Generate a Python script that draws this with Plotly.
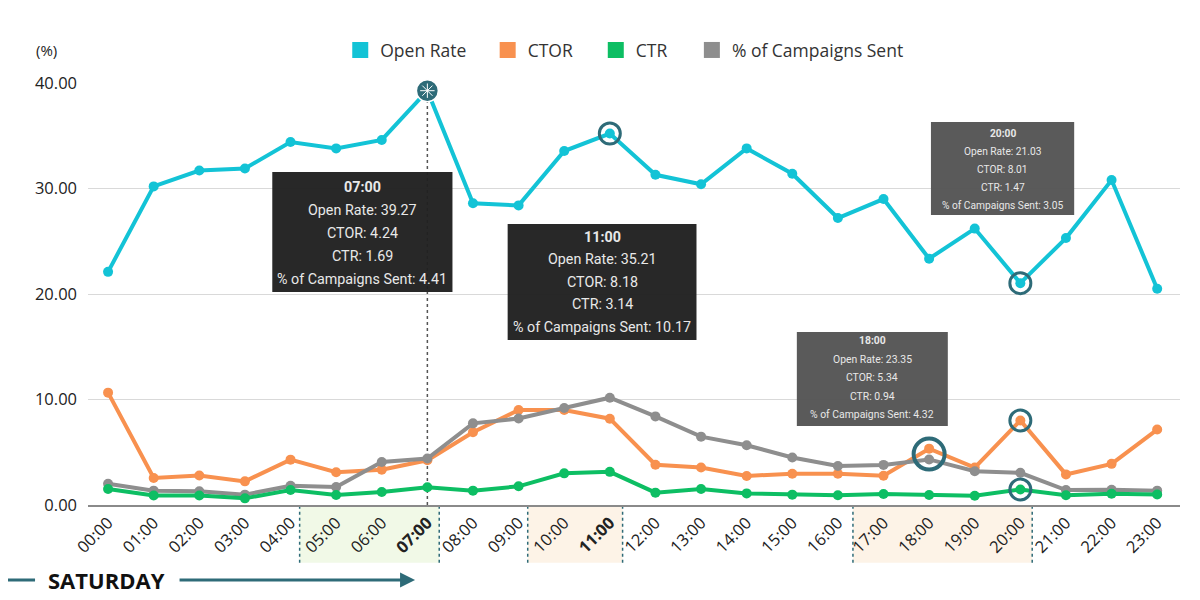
import plotly.graph_objects as go

# hourly send-time stats (%), Saturday
HOURS = [f"{h:02d}:00" for h in range(24)]
OPEN_RATE = [22.1, 30.2, 31.7, 31.9, 34.4, 33.8, 34.6, 39.27, 28.6, 28.4, 33.55, 35.21,
             31.3, 30.4, 33.8, 31.4, 27.2, 29.0, 23.35, 26.2, 21.03, 25.3, 30.8, 20.5]
CTOR = [10.65, 2.56, 2.8, 2.24, 4.3, 3.1, 3.35, 4.24, 6.9, 9.0, 9.0, 8.18,
        3.82, 3.55, 2.75, 2.97, 2.97, 2.78, 5.34, 3.55, 8.01, 2.9, 3.9, 7.15]
CTR = [1.52, 0.9, 0.9, 0.63, 1.42, 0.95, 1.23, 1.69, 1.36, 1.77, 3.0, 3.14,
       1.17, 1.52, 1.1, 0.98, 0.92, 1.04, 0.94, 0.88, 1.47, 0.92, 1.07, 1.0]
CAMPAIGNS = [2.02, 1.36, 1.3, 0.98, 1.83, 1.7, 4.08, 4.41, 7.74, 8.2, 9.2, 10.17,
             8.4, 6.48, 5.66, 4.5, 3.7, 3.8, 4.32, 3.2, 3.05, 1.42, 1.45, 1.36]
BOLD_HOURS = ["07:00", "11:00"]

C_OPEN = "#13C3D6"
C_CTOR = "#F8914F"
C_CTR = "#0DBE63"
C_CAMP = "#8E8E8E"
C_TEAL = "#2E6B78"
FONT = "Open Sans"

fig = go.Figure()

series = [
    ("CTOR", CTOR, C_CTOR),
    ("% of Campaigns Sent", CAMPAIGNS, C_CAMP),
    ("CTR", CTR, C_CTR),
    ("Open Rate", OPEN_RATE, C_OPEN),
]
for name, vals, col in series:
    fig.add_trace(go.Scatter(
        x=HOURS, y=vals, mode="lines+markers", name=name,
        line=dict(color=col, width=4), marker=dict(color=col, size=10),
        showlegend=False, cliponaxis=False,
    ))

# legend entries as squares, one small legend each so the spacing can be set
legend_items = [("Open Rate", C_OPEN, 0.231), ("CTOR", C_CTOR, 0.366),
                ("CTR", C_CTR, 0.465), ("% of Campaigns Sent", C_CAMP, 0.553)]
legend_layout = {}
for k, (name, col, lx) in enumerate(legend_items):
    key = "legend" if k == 0 else f"legend{k + 1}"
    fig.add_trace(go.Scatter(
        x=[None], y=[None], mode="markers", name=name, legend=key,
        marker=dict(symbol="square", size=19, color=col),
    ))
    legend_layout[key] = dict(orientation="h", x=lx, xanchor="left", y=1.078, yanchor="middle",
                              font=dict(family=FONT, size=17.5, color="#333"),
                              bgcolor="rgba(0,0,0,0)", itemwidth=30)

# highlighted points
fig.add_trace(go.Scatter(
    x=[HOURS[7]], y=[OPEN_RATE[7]], mode="markers", showlegend=False, cliponaxis=False,
    marker=dict(symbol="circle", size=22, color=C_TEAL, line=dict(color="white", width=1.5)),
))
fig.add_trace(go.Scatter(
    x=[HOURS[7]], y=[OPEN_RATE[7]], mode="markers", showlegend=False, cliponaxis=False,
    marker=dict(symbol="asterisk-open", size=12, color="white", line=dict(color="white", width=1)),
))
fig.add_trace(go.Scatter(
    x=[HOURS[11], HOURS[20], HOURS[20], HOURS[20]],
    y=[OPEN_RATE[11], OPEN_RATE[20], CTOR[20], CTR[20]],
    mode="markers", showlegend=False, cliponaxis=False,
    marker=dict(symbol="circle-open", size=21, color=C_TEAL, line=dict(color=C_TEAL, width=3)),
))
fig.add_trace(go.Scatter(
    x=[HOURS[18]], y=[(CTOR[18] + CAMPAIGNS[18]) / 2],
    mode="markers", showlegend=False, cliponaxis=False,
    marker=dict(symbol="circle-open", size=31, color=C_TEAL, line=dict(color=C_TEAL, width=4)),
))

shapes = []
# dashed guide at 07:00
shapes.append(dict(type="line", xref="x", yref="y", x0=7, x1=7, y0=0, y1=OPEN_RATE[7],
                   line=dict(color="#555555", width=1.5, dash="dot"), layer="below"))

# shaded label bands under the axis
for x0, x1, fill in [(4.2, 7.26, "#F1F9E7"), (9.2, 11.28, "#FDF3E7"), (16.33, 20.26, "#FDF3E7")]:
    shapes.append(dict(type="rect", xref="x", yref="paper", x0=x0, x1=x1, y0=-0.137, y1=0,
                       fillcolor=fill, line=dict(width=0), layer="below"))
    for xv in (x0, x1):
        shapes.append(dict(type="line", xref="x", yref="paper", x0=xv, x1=xv, y0=-0.137, y1=0,
                           line=dict(color=C_TEAL, width=1.5, dash="dot"), layer="below"))

annotations = []


def tooltip(i, box, bg, size, first, step):
    """Dark hover-style box: box = (x0, x1, ytop, ybottom) in data units."""
    x0, x1, yt, yb = box
    shapes.append(dict(type="rect", xref="x", yref="y", x0=x0, x1=x1, y0=yb, y1=yt,
                       fillcolor=bg, line=dict(width=0), layer="above"))
    lines = [
        f"<b>{HOURS[i]}</b>",
        f"Open Rate: {OPEN_RATE[i]:.2f}",
        f"CTOR: {CTOR[i]:.2f}",
        f"CTR: {CTR[i]:.2f}",
        f"% of Campaigns Sent: {CAMPAIGNS[i]:.2f}",
    ]
    for k, t in enumerate(lines):
        annotations.append(dict(
            x=(x0 + x1) / 2, y=yt, xref="x", yref="y", text=t, showarrow=False,
            xanchor="center", yanchor="middle", yshift=-(first + k * step),
            font=dict(family="Roboto", size=size, color="#E8E8E8"),
        ))


tooltip(7, (3.6, 7.55, 31.56, 20.19), "rgba(33,33,33,0.97)", 14.3, 15, 23)
tooltip(11, (8.76, 12.9, 26.64, 15.64), "rgba(33,33,33,0.97)", 14.3, 13, 22.5)
tooltip(20, (18.04, 21.18, 36.3, 27.5), "rgba(85,85,85,0.97)", 10.2, 11, 18)
tooltip(18, (15.1, 18.41, 16.4, 7.49), "rgba(85,85,85,0.97)", 10.4, 9, 18.5)

# (%) unit label
annotations.append(dict(x=-0.038, y=1.078, xref="paper", yref="paper", text="(%)",
                        xanchor="center", yanchor="middle", showarrow=False,
                        font=dict(family=FONT, size=15, color="#222")))

# SATURDAY marker with arrow
shapes.append(dict(type="line", xref="paper", yref="paper", x0=-0.08, x1=-0.0485,
                   y0=-0.178, y1=-0.178, line=dict(color=C_TEAL, width=3)))
annotations.append(dict(x=0.0165, y=-0.178, xref="paper", yref="paper", text="<b>SATURDAY</b>",
                        xanchor="center", yanchor="middle", showarrow=False,
                        font=dict(family=FONT, size=22, color="#111")))
annotations.append(dict(x=0.2995, y=-0.178, ax=-237, ay=0, xref="paper", yref="paper",
                        axref="pixel", ayref="pixel", text="", showarrow=True,
                        arrowhead=2, arrowsize=1, arrowwidth=3, arrowcolor=C_TEAL))

ticktext = [f"<b>{h}</b>" if h in BOLD_HOURS else h for h in HOURS]

fig.update_layout(
    width=1200, height=600,
    # the page body adds 8px, so margins are trimmed to keep the plot where it belongs
    margin=dict(l=80, r=28, t=75, b=103),
    plot_bgcolor="white", paper_bgcolor="white",
    font=dict(family=FONT, color="#222"),
    shapes=shapes, annotations=annotations,
    xaxis=dict(type="category", categoryorder="array", categoryarray=HOURS,
               tickvals=HOURS, ticktext=ticktext, tickangle=-45,
               range=[-0.44, 23.5], showgrid=False, showline=True,
               linecolor="#8A8A8A", linewidth=1.5, ticks="",
               tickfont=dict(family=FONT, size=16.5, color="#222")),
    yaxis=dict(range=[0, 40], dtick=10, tickformat=".2f", showgrid=True,
               gridcolor="#D9D9D9", gridwidth=1, zeroline=False, ticks="",
               ticklabelstandoff=10,
               tickfont=dict(family=FONT, size=16.5, color="#222")),
    **legend_layout,
)

fig.write_html("out.html")
